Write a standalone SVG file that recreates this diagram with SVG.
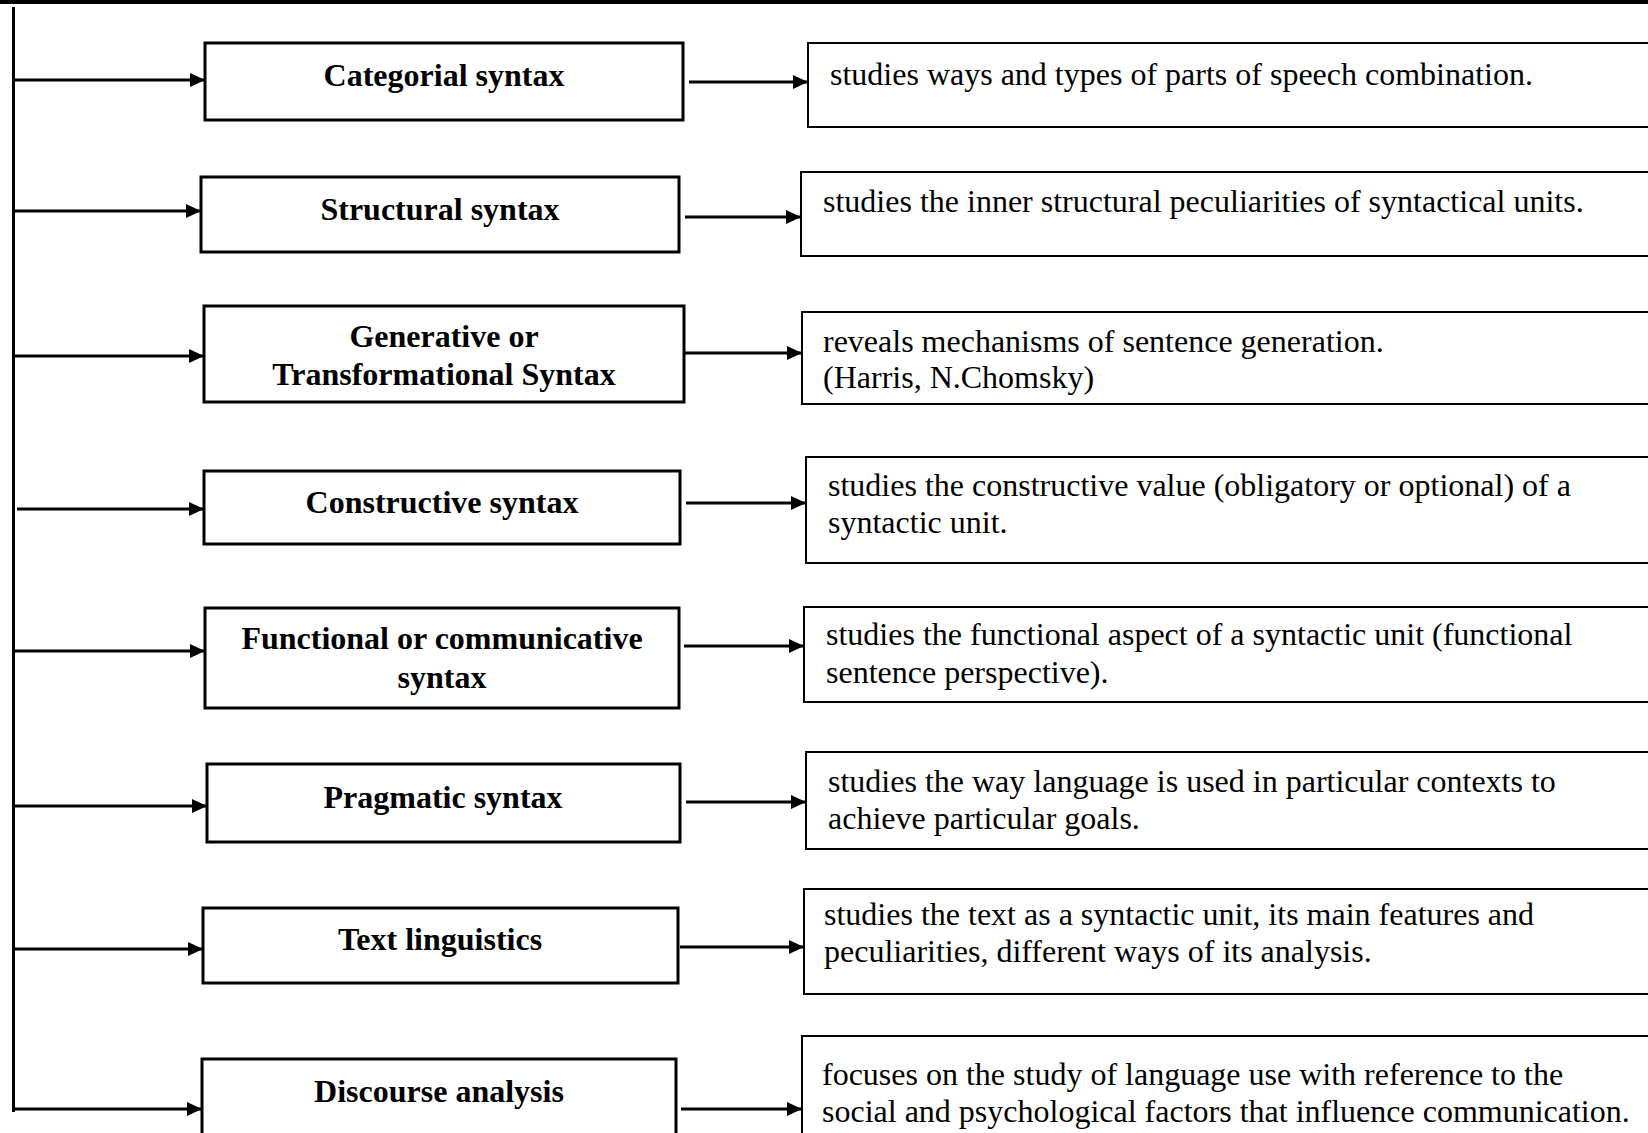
<svg xmlns="http://www.w3.org/2000/svg" width="1648" height="1133" viewBox="0 0 1648 1133">
<style>
.lb{fill:#fff;stroke:#000;stroke-width:3}
.db{fill:#fff;stroke:#000;stroke-width:2}
.lt{font-family:"Liberation Serif","Times New Roman",serif;font-weight:bold;font-size:32px;text-anchor:middle;fill:#000}
.dt{font-family:"Liberation Serif","Times New Roman",serif;font-size:32px;fill:#000}
.ar{stroke:#000;stroke-width:3;fill:none;marker-end:url(#ah)}
</style>
<defs>
<marker id="ah" markerUnits="userSpaceOnUse" markerWidth="15" markerHeight="15" refX="15" refY="7" orient="auto">
<path d="M0,0 L15,7 L0,14 z" fill="#000"/>
</marker>
</defs>
<rect x="0" y="0" width="1648" height="1133" fill="#fff"/>
<rect x="0" y="0" width="1648" height="4" fill="#000"/>

<g id="connectors">
<line x1="13.5" y1="7" x2="13.5" y2="1112" stroke="#000" stroke-width="3"/>
<line class="ar" x1="14" y1="80" x2="205" y2="80"/>
<line class="ar" x1="14" y1="211" x2="201" y2="211"/>
<line class="ar" x1="14" y1="356" x2="204" y2="356"/>
<line class="ar" x1="17" y1="509" x2="204" y2="509"/>
<line class="ar" x1="14" y1="651" x2="205" y2="651"/>
<line class="ar" x1="14" y1="806" x2="207" y2="806"/>
<line class="ar" x1="14" y1="949" x2="203" y2="949"/>
<line class="ar" x1="12" y1="1109" x2="202" y2="1109"/>
<line class="ar" x1="689" y1="82" x2="808" y2="82"/>
<line class="ar" x1="685" y1="217" x2="801" y2="217"/>
<line class="ar" x1="685" y1="353" x2="802" y2="353"/>
<line class="ar" x1="686" y1="503" x2="806" y2="503"/>
<line class="ar" x1="684" y1="646" x2="804" y2="646"/>
<line class="ar" x1="686" y1="802" x2="806" y2="802"/>
<line class="ar" x1="680" y1="947" x2="804" y2="947"/>
<line class="ar" x1="681" y1="1109" x2="802" y2="1109"/>
</g>

<g id="categorial">
<rect class="lb" x="205" y="43" width="478" height="77"/>
<text class="lt" x="444" y="86">Categorial syntax</text>
</g>
<g id="categorial-desc">
<rect class="db" x="808" y="43" width="860" height="84"/>
<text class="dt" x="830" y="85">studies ways and types of parts of speech combination.</text>
</g>

<g id="structural">
<rect class="lb" x="201" y="177" width="478" height="75"/>
<text class="lt" x="440" y="220">Structural syntax</text>
</g>
<g id="structural-desc">
<rect class="db" x="801" y="172" width="870" height="84"/>
<text class="dt" x="823" y="212">studies the inner structural peculiarities of syntactical units.</text>
</g>

<g id="generative">
<rect class="lb" x="204" y="306" width="480" height="96"/>
<text class="lt" x="444" y="347">Generative or</text>
<text class="lt" x="444" y="385">Transformational Syntax</text>
</g>
<g id="generative-desc">
<rect class="db" x="802" y="312" width="870" height="92"/>
<text class="dt" x="823" y="352">reveals mechanisms of sentence generation.</text>
<text class="dt" x="823" y="388">(Harris, N.Chomsky)</text>
</g>

<g id="constructive">
<rect class="lb" x="204" y="471" width="476" height="73"/>
<text class="lt" x="442" y="513">Constructive syntax</text>
</g>
<g id="constructive-desc">
<rect class="db" x="806" y="457" width="870" height="106"/>
<text class="dt" x="828" y="496">studies the constructive value (obligatory or optional) of a</text>
<text class="dt" x="828" y="533">syntactic unit.</text>
</g>

<g id="functional">
<rect class="lb" x="205" y="608" width="474" height="100"/>
<text class="lt" x="442" y="649">Functional or communicative</text>
<text class="lt" x="442" y="688">syntax</text>
</g>
<g id="functional-desc">
<rect class="db" x="804" y="607" width="870" height="95"/>
<text class="dt" x="826" y="645">studies the functional aspect of a syntactic unit (functional</text>
<text class="dt" x="826" y="683">sentence perspective).</text>
</g>

<g id="pragmatic">
<rect class="lb" x="207" y="764" width="473" height="78"/>
<text class="lt" x="443" y="808">Pragmatic syntax</text>
</g>
<g id="pragmatic-desc">
<rect class="db" x="806" y="752" width="870" height="97"/>
<text class="dt" x="828" y="792">studies the way language is used in particular contexts to</text>
<text class="dt" x="828" y="829">achieve particular goals.</text>
</g>

<g id="text-linguistics">
<rect class="lb" x="203" y="908" width="475" height="75"/>
<text class="lt" x="440" y="950">Text linguistics</text>
</g>
<g id="text-linguistics-desc">
<rect class="db" x="804" y="889" width="870" height="105"/>
<text class="dt" x="824" y="925">studies the text as a syntactic unit, its main features and</text>
<text class="dt" x="824" y="962">peculiarities, different ways of its analysis.</text>
</g>

<g id="discourse">
<rect class="lb" x="202" y="1059" width="474" height="100"/>
<text class="lt" x="439" y="1102">Discourse analysis</text>
</g>
<g id="discourse-desc">
<rect class="db" x="802" y="1036" width="870" height="120"/>
<text class="dt" x="822" y="1085">focuses on the study of language use with reference to the</text>
<text class="dt" x="822" y="1122">social and psychological factors that influence communication.</text>
</g>
</svg>
